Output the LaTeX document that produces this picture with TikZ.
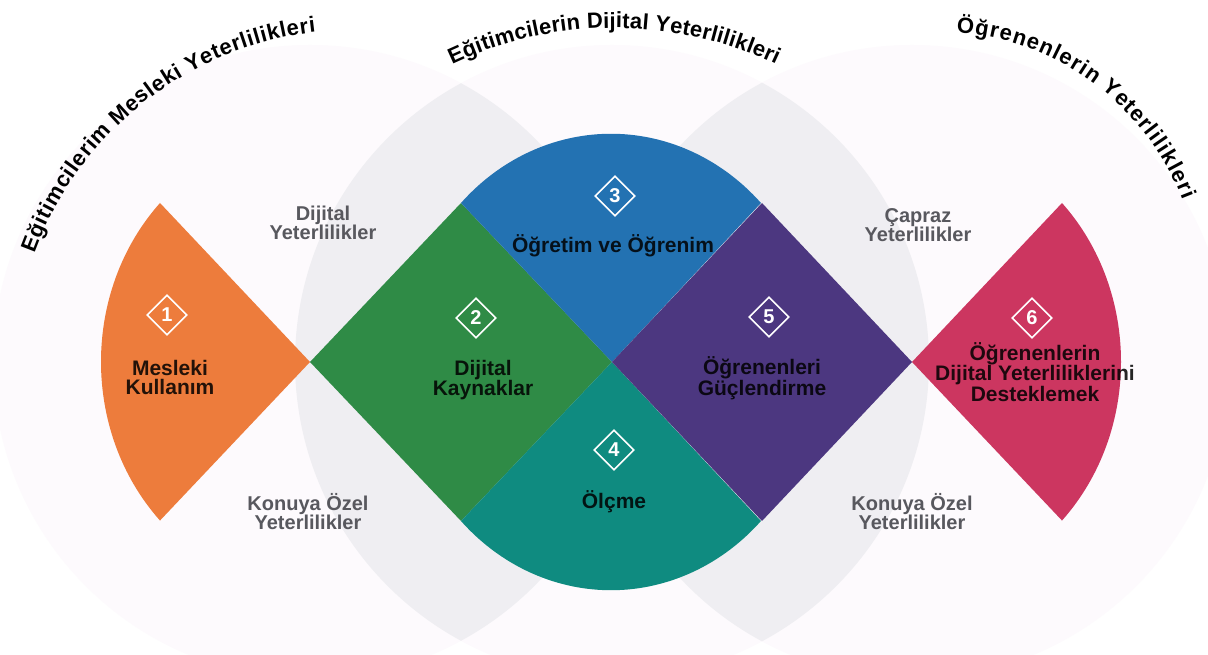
\documentclass[tikz,border=0pt]{standalone}
\usepackage{fontspec}
\setmainfont{Liberation Sans}
\usetikzlibrary{shapes.geometric,decorations.text}
\definecolor{orangec}{RGB}{237,124,60}
\definecolor{greenc}{RGB}{47,139,70}
\definecolor{bluec}{RGB}{35,114,178}
\definecolor{tealc}{RGB}{15,139,128}
\definecolor{purplec}{RGB}{76,55,128}
\definecolor{pinkc}{RGB}{204,54,96}
\definecolor{ringc}{RGB}{253,250,253}
\definecolor{lensc}{RGB}{239,238,242}
\definecolor{sidec}{RGB}{88,88,94}
\newcommand{\titlefont}{\bfseries\fontsize{22}{22}\selectfont}
\begin{document}
\begin{tikzpicture}[x=1pt,y=1pt,
    badge/.style={diamond,draw=white,line width=1.6pt,minimum width=40pt,minimum height=40pt,inner sep=0pt,text=white,font=\bfseries\fontsize{20}{20}\selectfont},
    lbl/.style={align=center,text=black,text opacity=0.85,font=\bfseries\fontsize{21}{19}\selectfont},
    side/.style={align=center,text=sidec,font=\bfseries\fontsize{20}{19}\selectfont},
    petal/.style={x radius=209pt,y radius=228pt}]
   \useasboundingbox (0,0) rectangle (1208,655);
   \fill[white] (0,0) rectangle (1208,655);
   \coordinate (cL) at (310,293);
   \coordinate (cM) at (612,293);
   \coordinate (cR) at (912,293);
   \foreach \c in {cL,cM,cR}
      \fill[ringc] (\c) circle[radius=317pt];
   \begin{scope}
      \clip (cL) circle[radius=317pt];
      \fill[lensc] (cM) circle[radius=317pt];
   \end{scope}
   \begin{scope}
      \clip (cM) circle[radius=317pt];
      \fill[lensc] (cR) circle[radius=317pt];
   \end{scope}
   \fill[orangec] (cL) -- (160,452) arc[start angle=135.86,end angle=224.14,petal] -- cycle;
   \fill[greenc] (cL) -- (461,452) -- (cM) -- (461,134) -- cycle;
   \fill[bluec] (cM) -- (461,452) arc[start angle=135.86,end angle=44.14,petal] -- cycle;
   \fill[tealc] (cM) -- (461,134) arc[start angle=224.14,end angle=315.86,petal] -- cycle;
   \fill[purplec] (cM) -- (762,452) -- (cR) -- (762,134) -- cycle;
   \fill[pinkc] (cR) -- (1062,452) arc[start angle=44.14,end angle=-44.14,petal] -- cycle;
   \path[decorate,decoration={text along path,text align={fit to path},text={|\titlefont|Eğitimcilerim Mesleki Yeterlilikleri}}]
      (354,285) ++(160:340) arc[start angle=160,end angle=96.5,radius=340pt];
   \path[decorate,decoration={text along path,text align={fit to path},text={|\titlefont|Eğitimcilerin Dijital Yeterlilikleri}}]
      (614,248) ++(115.3:379) arc[start angle=115.3,end angle=64.7,radius=379pt];
   \path[decorate,decoration={text along path,text align={fit to path},text={|\titlefont|Öğrenenlerin Yeterlilikleri}}]
      (938,361) ++(86:262) arc[start angle=86,end angle=21,radius=262pt];
   \node[badge] (n1) at (167,340) {1};
   \node[badge] (n2) at (476,337) {2};
   \node[badge] (n3) at (615,459) {3};
   \node[badge] (n4) at (614,205) {4};
   \node[badge] (n5) at (769,338) {5};
   \node[badge] (n6) at (1032,337) {6};
   \node[lbl] (l1) at (170,277) {Mesleki\\Kullanım};
   \node[lbl] (l2) at (483,275) {Dijital\\Kaynaklar};
   \node[lbl] (l3) at (613,409) {Öğretim ve Öğrenim};
   \node[lbl] (l4) at (614,153) {Ölçme};
   \node[lbl] (l5) at (762,277) {Öğrenenleri\\Güçlendirme};
   \node[lbl] (l6) at (1035,283) {Öğrenenlerin\\Dijital Yeterliliklerini\\Desteklemek};
   \node[side] (s1) at (323,432) {Dijital\\Yeterlilikler};
   \node[side] (s2) at (308,143) {Konuya Özel\\Yeterlilikler};
   \node[side] (s3) at (918,430) {Çapraz\\Yeterlilikler};
   \node[side] (s4) at (912,143) {Konuya Özel\\Yeterlilikler};
\end{tikzpicture}
\end{document}
